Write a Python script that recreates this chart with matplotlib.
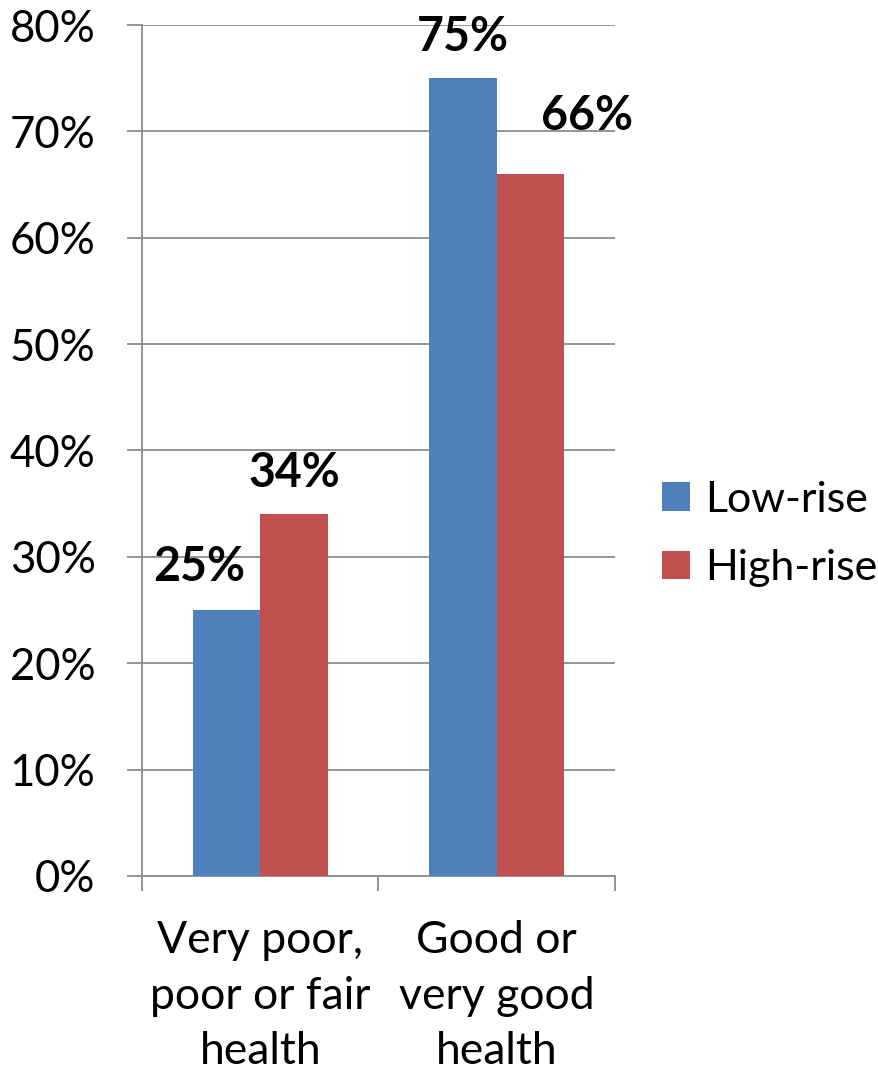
import matplotlib
matplotlib.use("Agg")
import matplotlib.pyplot as plt
from matplotlib.patches import Patch
import numpy as np

categories = ["Very poor,\npoor or fair\nhealth", "Good or\nvery good\nhealth"]
series_names = ["Low-rise", "High-rise"]
low_rise = [25, 75]
high_rise = [34, 66]
colors = ["#4F81BD", "#C0504D"]
y_ticks = [0, 10, 20, 30, 40, 50, 60, 70, 80]

plt.rcParams["font.family"] = ["Lato", "DejaVu Sans"]

fig = plt.figure(figsize=(8.79, 10.73), dpi=100)
ax = fig.add_axes([142 / 879, 1 - 876 / 1073, (615 - 142) / 879, (876 - 25) / 1073])

x = np.arange(len(categories))
w = 0.285
b1 = ax.bar(x - w / 2, low_rise, width=w, color=colors[0], zorder=3)
b2 = ax.bar(x + w / 2, high_rise, width=w, color=colors[1], zorder=3)

ax.set_xlim(-0.5, len(categories) - 0.5)
ax.set_ylim(0, 80)

grid_c = "#8C8C8C"
ax.set_yticks(y_ticks)
ax.set_yticklabels([f"{v}%" for v in y_ticks], fontsize=31.5)
ax.yaxis.grid(True, color=grid_c, linewidth=1.3, zorder=0)
ax.tick_params(axis="y", direction="out", length=10.5, width=1.3, color=grid_c, pad=23)

ax.set_xticks(np.arange(-0.5, len(categories), 1.0))
ax.set_xticklabels([])
ax.tick_params(axis="x", which="major", direction="out", length=10.5, width=1.3, color=grid_c)
ax.set_xticks(x, minor=True)
ax.set_xticklabels(categories, minor=True, fontsize=32, linespacing=1.44)
ax.tick_params(axis="x", which="minor", length=0, pad=32)

for s in ["top", "right"]:
    ax.spines[s].set_visible(False)
for s in ["left", "bottom"]:
    ax.spines[s].set_color(grid_c)
    ax.spines[s].set_linewidth(1.3)

# value labels above bars, with manual nudges for readability
offsets = {(0, 0): (-20, 31), (0, 1): (0, 30), (1, 0): (0, 30), (1, 1): (41, 42)}
for si, (bars, vals) in enumerate([(b1, low_rise), (b2, high_rise)]):
    for ci, (bar, v) in enumerate(zip(bars, vals)):
        dx, dy = offsets[(ci, si)]
        ax.annotate(f"{v}%", xy=(bar.get_x() + bar.get_width() / 2, v),
                    xytext=(dx, dy), textcoords="offset points",
                    ha="center", va="center", fontsize=33.5, fontweight="bold", zorder=5)

handles = [Patch(facecolor=c, edgecolor="none") for c in colors]
fig.legend(handles, series_names, loc="center left", bbox_to_anchor=(662 / 879, 1 - 534 / 1073),
           frameon=False, fontsize=31, handlelength=0.65, handleheight=0.65,
           handletextpad=0.35, labelspacing=0.7, borderaxespad=0, borderpad=0)

fig.savefig("out.png", dpi=100)
